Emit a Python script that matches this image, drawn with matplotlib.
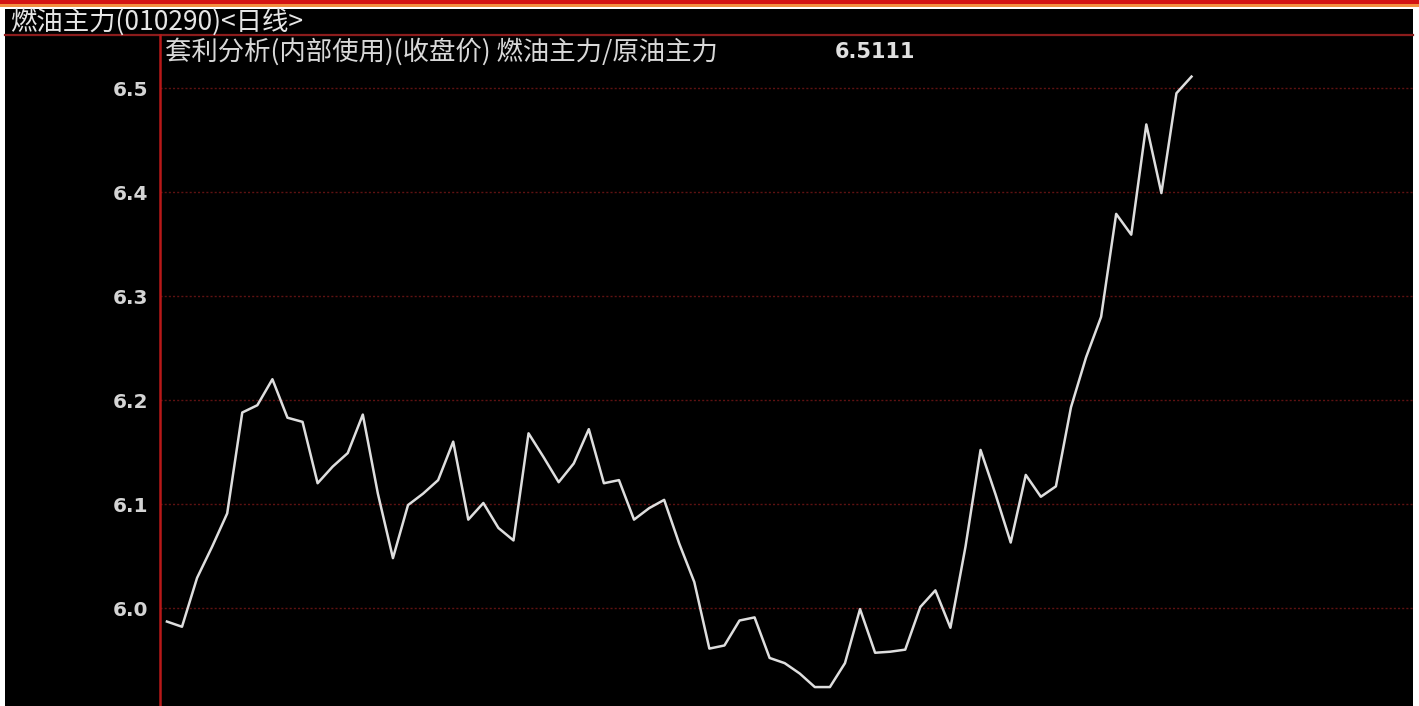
import matplotlib
matplotlib.use('Agg')
import matplotlib.pyplot as plt
from matplotlib.patches import Rectangle

plt.rcParams['font.family'] = ['Noto Sans CJK SC', 'DejaVu Sans']

# 燃油主力/原油主力 收盘价比值（日线）
ratio = [5.987, 5.982, 6.029, 6.059, 6.091, 6.188, 6.195, 6.220, 6.183, 6.179,
         6.120, 6.136, 6.149, 6.186, 6.110, 6.048, 6.099, 6.110, 6.123, 6.160,
         6.085, 6.101, 6.077, 6.065, 6.168, 6.145, 6.121, 6.139, 6.172, 6.120,
         6.123, 6.085, 6.096, 6.104, 6.062, 6.025, 5.961, 5.964, 5.988, 5.991,
         5.952, 5.947, 5.937, 5.924, 5.924, 5.947, 5.999, 5.957, 5.958, 5.960,
         6.001, 6.017, 5.981, 6.059, 6.152, 6.109, 6.063, 6.128, 6.107, 6.117,
         6.193, 6.241, 6.280, 6.379, 6.359, 6.465, 6.399, 6.495, 6.511]
y_ticks = [6.0, 6.1, 6.2, 6.3, 6.4, 6.5]
y_tick_labels = ['6.0', '6.1', '6.2', '6.3', '6.4', '6.5']

title_text = '燃油主力(010290)<日线>'
sub_text = '套利分析(内部使用)(收盘价) 燃油主力/原油主力'
last_value = '6.5111'

W, H = 1419, 706
fig = plt.figure(figsize=(W / 100, H / 100), dpi=100)
fig.patch.set_facecolor('white')

# 背景层，使用像素坐标
bg = fig.add_axes([0, 0, 1, 1], zorder=0)
bg.set_xlim(0, W)
bg.set_ylim(H, 0)
bg.axis('off')
bg.add_patch(Rectangle((0, 0), W, 3.5, color='#d41414', lw=0))
bg.add_patch(Rectangle((0, 3.5), W, 3, color='#f39040', lw=0))
bg.add_patch(Rectangle((5, 9), 1408, H - 9, color='black', lw=0))
bg.plot([5, 1413], [35, 35], color='#8c1c1c', lw=1.6)
bg.text(10, 22, title_text, color='#e6e6e6', fontsize=19, va='center', ha='left')
bg.text(165, 52, sub_text, color='#d8d8d8', fontsize=19, va='center', ha='left')
bg.text(835, 52, last_value, color='#e0e0e0', fontsize=15, fontweight='bold',
        va='center', ha='left', family='DejaVu Sans')

# 主图
ax = fig.add_axes([160 / W, 0, (1413 - 160) / W, (H - 35) / H], zorder=1)
ax.patch.set_alpha(0)
ax.plot(range(len(ratio)), ratio, color='#dedede', lw=1.8, zorder=3)
ax.set_xlim(-0.46, 82.7)
ax.set_ylim(5.9058, 6.551)
ax.set_xticks([])
ax.set_yticks(y_ticks)
ax.set_yticklabels(y_tick_labels, family='DejaVu Sans', fontweight='bold')
ax.tick_params(axis='y', length=0, pad=8.6, labelcolor='#d4d4d4', labelsize=14.5)
for s in ['top', 'right', 'bottom']:
    ax.spines[s].set_visible(False)
ax.spines['left'].set_color('#b81818')
ax.spines['left'].set_linewidth(1.8)
ax.grid(True, axis='y', color='#5e1212', linestyle=(0, (1.5, 1.5)), lw=1.0)

fig.savefig('out.png', dpi=100, facecolor=fig.get_facecolor())
